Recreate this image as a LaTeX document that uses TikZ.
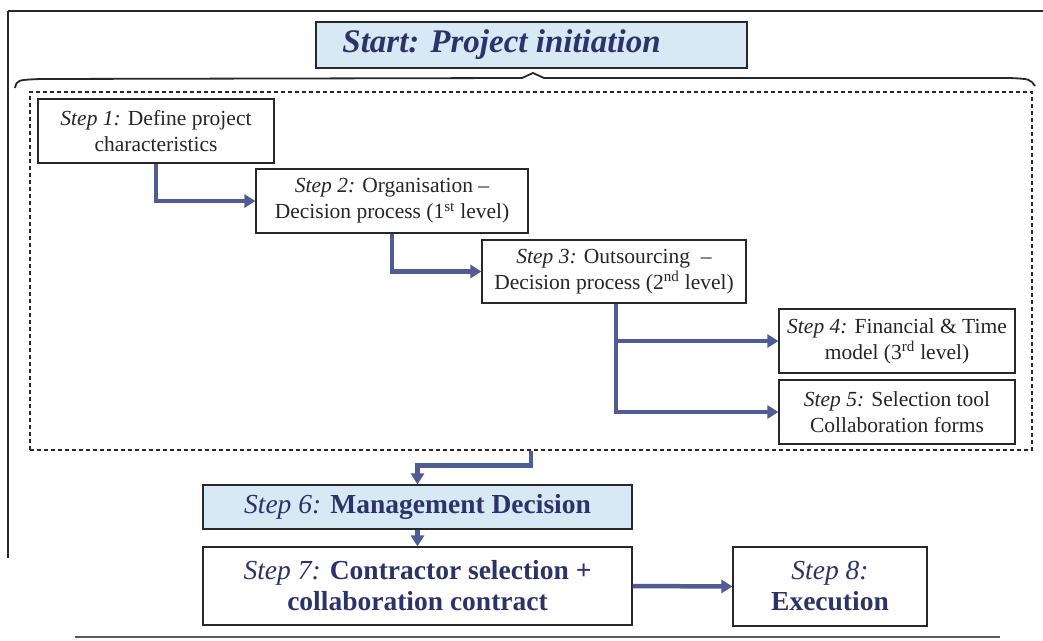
\documentclass[tikz,border=0pt]{standalone}
\usepackage{fontspec}
\setmainfont{Liberation Serif}
\usetikzlibrary{arrows.meta}
\definecolor{flow}{RGB}{82,92,148}
\definecolor{navy}{RGB}{45,50,105}
\definecolor{paleblue}{RGB}{214,233,245}
\definecolor{frame}{RGB}{40,40,40}
\tikzset{
  stepbox/.style={draw=frame, line width=1.2pt, fill=white, align=center,
    inner sep=0pt, font=\fontsize{21.5}{26}\selectfont, text=black!85},
  keybox/.style={stepbox, fill=paleblue, text=navy},
  bigbox/.style={stepbox, font=\fontsize{27.5}{31}\selectfont, text=navy},
  flowarrow/.style={draw=flow, line width=4.5pt,
    -{Triangle[length=11pt,width=13pt]}},
  phasebox/.style={draw=frame, line width=1.2pt, dash pattern=on 4pt off 3pt,
    inner sep=0pt}
}
\newcommand{\stepn}[1]{\textit{#1}}
\begin{document}
\begin{tikzpicture}[x=1pt, y=-1pt]
\useasboundingbox (0,0) rectangle (1043,640);
\fill[white] (0,0) rectangle (1043,640);

% outer frame fragments
\draw[frame, line width=2pt] (8,11) -- (1043,11);
\draw[frame, line width=2.5pt] (8,11) -- (8,558);
\draw[black!65, line width=2.5pt] (75,637) -- (1000,637);

% brace under the start box
\draw[frame, line width=1.8pt]
  (15,88) .. controls (17,80) .. (40,79) -- (522,78) -- (533,73) -- (544,78)
  -- (1010,78) .. controls (1030,79) .. (1035,86);

% dotted phase frame
\node[phasebox, minimum width=1002pt, minimum height=358pt] (phase) at (531,271) {};

% start (title set slightly left of the box centre)
\node[keybox, minimum width=431pt, minimum height=46pt,
  font=\fontsize{33}{36}\selectfont\bfseries\itshape] (start) at (531.5,45)
  {\hspace*{-60pt}Start: Project initiation};

% steps inside the phase frame
\node[stepbox, minimum width=236pt, minimum height=64pt] (s1) at (156,131)
  {\stepn{Step 1:} Define project\\characteristics};
\node[stepbox, minimum width=272pt, minimum height=64pt] (s2) at (392,201)
  {\stepn{Step 2:} Organisation --\\Decision process (1\textsuperscript{st} level)};
\node[stepbox, minimum width=264pt, minimum height=63pt] (s3) at (614,271.5)
  {\stepn{Step 3:} Outsourcing~ --\\Decision process (2\textsuperscript{nd} level)};
\node[stepbox, minimum width=236pt, minimum height=64pt] (s4) at (897,341)
  {\stepn{Step 4:} Financial \& Time\\model (3\textsuperscript{rd} level)};
\node[stepbox, minimum width=236pt, minimum height=64pt] (s5) at (897,412)
  {\stepn{Step 5:} Selection tool\\Collaboration forms};

% decision and execution
\node[bigbox, fill=paleblue, minimum width=429pt, minimum height=44pt] (s6) at (417.5,507)
  {\stepn{Step 6:} \textbf{Management Decision}};
\node[bigbox, minimum width=429pt, minimum height=78pt] (s7) at (417.5,586)
  {\stepn{Step 7:} \textbf{Contractor selection +}\\\textbf{collaboration contract}};
\node[bigbox, minimum width=194pt, minimum height=79pt] (s8) at (830,586.5)
  {\stepn{Step 8:}\\\textbf{Execution}};

% connectors
\draw[flowarrow] (s1.south) |- (s2.west);
\draw[flowarrow] (s2.south) |- (s3.west);
\draw[flowarrow] ([xshift=2pt]s3.south) |- (s4.west);
\draw[flowarrow] ([xshift=2pt]s3.south) |- (s5.west);
\coordinate (drop) at ([yshift=-15pt]phase.south);
\draw[flowarrow] (phase.south) -- (drop) -| (s6.north);
\draw[flowarrow] (s6.south) -- (s7.north);
\draw[flowarrow] (s7.east) -- (s8.west);
\end{tikzpicture}
\end{document}
